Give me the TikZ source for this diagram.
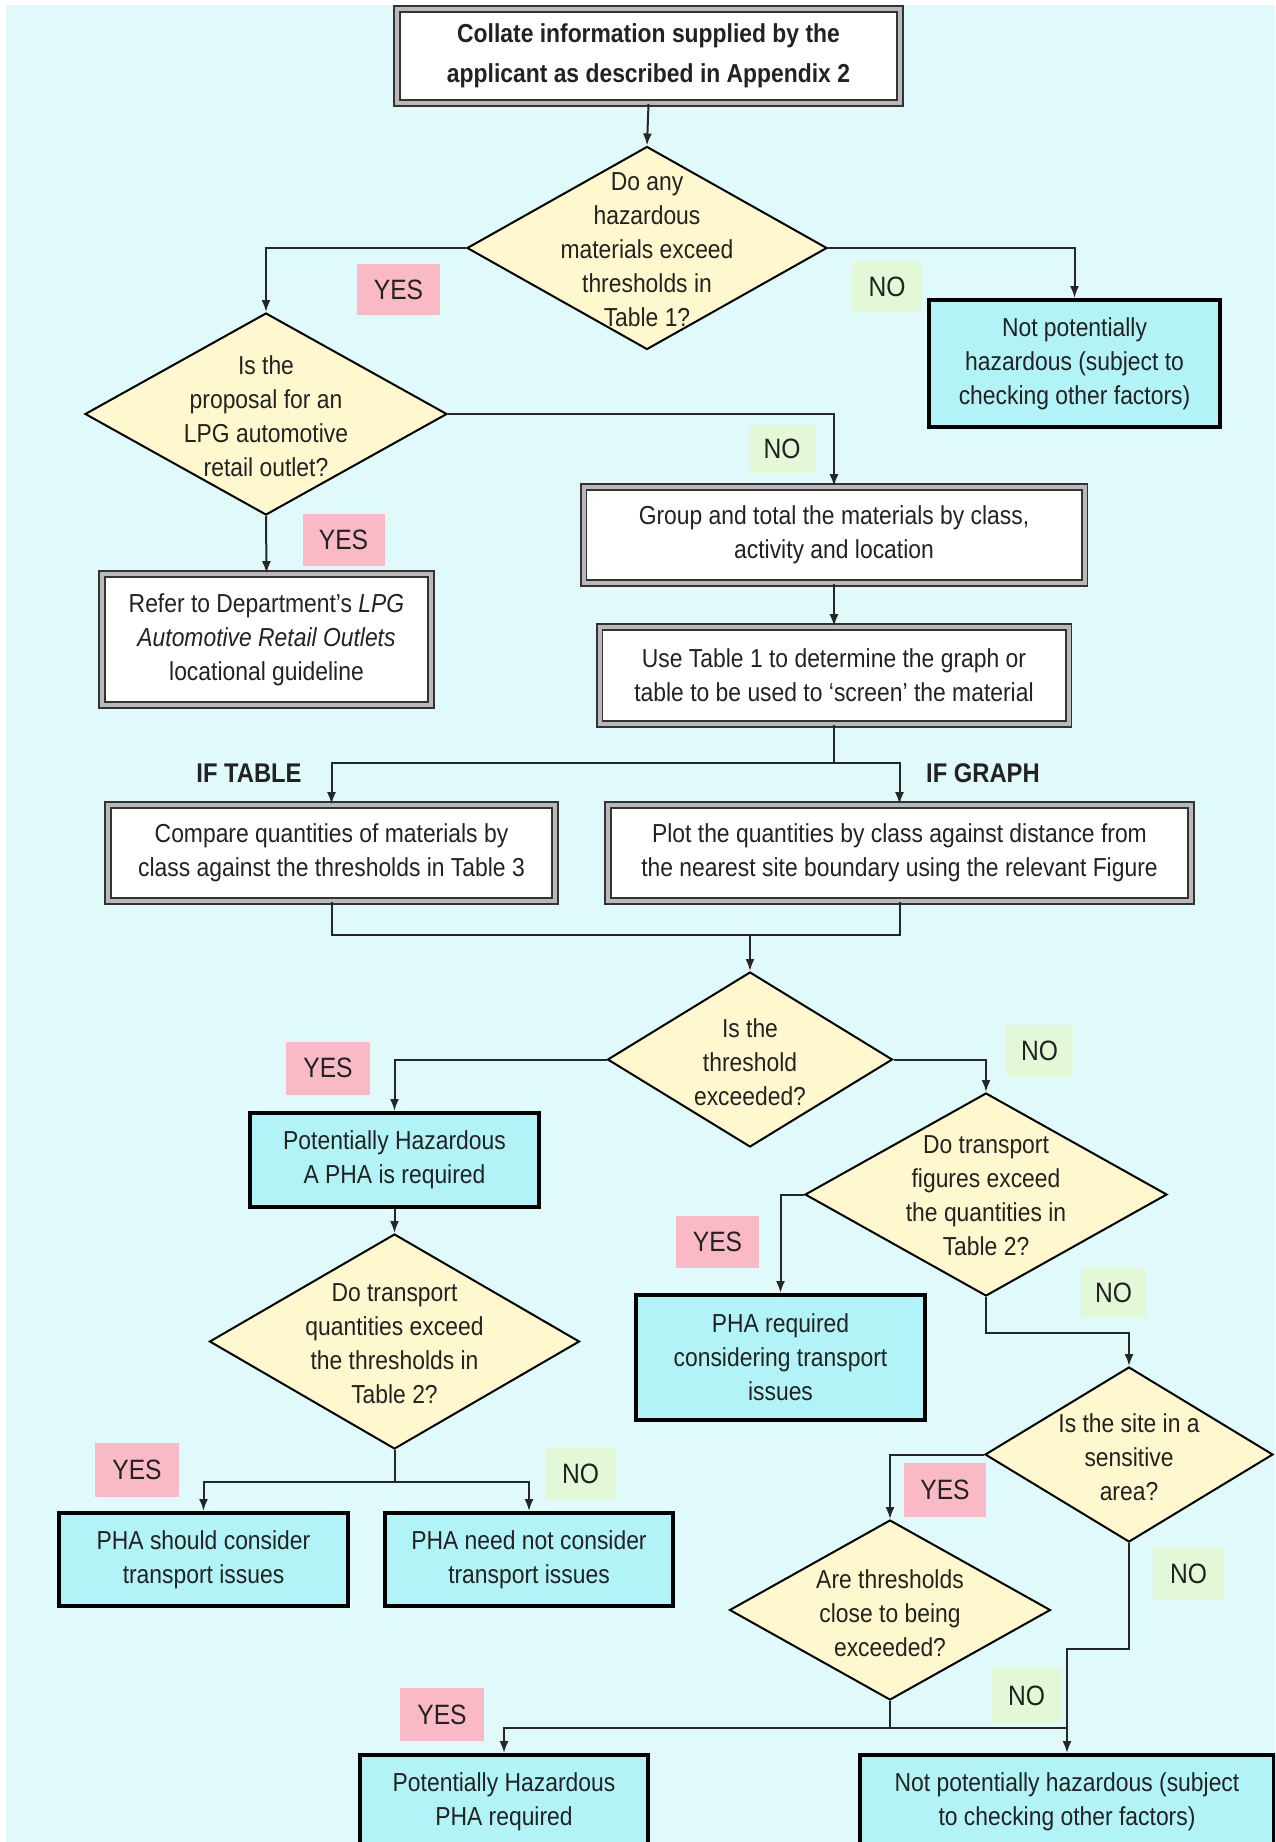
\documentclass[tikz,border=0pt]{standalone}
\usepackage{fontspec}
\setmainfont{Liberation Sans}[FakeStretch=0.88]
\usetikzlibrary{shapes.geometric,arrows.meta}
\definecolor{bgc}{RGB}{224,249,251}
\definecolor{cyanbox}{RGB}{178,243,247}
\definecolor{diafill}{RGB}{255,248,206}
\definecolor{yespink}{RGB}{250,186,197}
\definecolor{nogreen}{RGB}{226,248,214}
\definecolor{txt}{RGB}{34,34,34}
\begin{document}
\begin{tikzpicture}[x=0.5pt,y=-0.5pt,
 base/.style={font=\fontsize{13}{17}\selectfont, text=txt, align=center},
 wbox/.style={base, draw=black!80, line width=0.8pt, double=gray!55, double distance=2pt, fill=white, inner sep=0pt},
 cbox/.style={base, draw=black, line width=2pt, fill=cyanbox, inner sep=0pt},
 dia/.style={diamond, draw=black, line width=1pt, fill=diafill, inner sep=0pt},
 dtext/.style={base},
 yes/.style={base, fill=yespink, inner sep=0pt, font=\fontsize{14}{17}\selectfont},
 no/.style={base, fill=nogreen, inner sep=0pt, font=\fontsize{14}{17}\selectfont},
 iflab/.style={base, font=\bfseries\fontsize{13.5}{17}\selectfont},
 arr/.style={draw=black!85, line width=1pt, -{Latex[length=6pt,width=4.5pt]}},
 ln/.style={draw=black!85, line width=1pt},
]
\useasboundingbox (0,0) rectangle (1275,1842);
\clip (0,0) rectangle (1275,1842);
\fill[white] (0,0) rectangle (1275,1842);
\fill[bgc] (6,5) rectangle (1275,1842);

% boxes
\node[wbox, minimum width=251.5pt, minimum height=47pt, font=\bfseries\fontsize{13}{20}\selectfont] (top) at (648.5,56) {Collate information supplied by the\\applicant as described in Appendix 2};
\node[dia, minimum width=180pt, minimum height=101.5pt] (d1) at (647,248) {};
\node[dtext] (d1t) at (647,250) {Do any\\hazardous\\materials exceed\\thresholds in\\Table 1?};
\node[cbox, minimum width=145.5pt, minimum height=63.5pt] (nph1) at (1074.5,363.5) {Not potentially\\hazardous (subject to\\checking other factors)};
\node[dia, minimum width=181pt, minimum height=101pt] (d2) at (266,414) {};
\node[dtext] (d2t) at (266,416) {Is the\\proposal for an\\LPG automotive\\retail outlet?};
\node[wbox, minimum width=164.5pt, minimum height=65.5pt] (refer) at (266.5,639.5) {Refer to Department’s \textit{LPG}\\\textit{Automotive Retail Outlets}\\locational guideline};
\node[wbox, minimum width=250.5pt, minimum height=48pt] (group) at (834,535) {Group and total the materials by class,\\activity and location};
\node[wbox, minimum width=234.5pt, minimum height=48.5pt] (use) at (834,675.5) {Use Table 1 to determine the graph or\\table to be used to ‘screen’ the material};
\node[wbox, minimum width=223.5pt, minimum height=48pt] (compare) at (331.5,853) {Compare quantities of materials by\\class against the thresholds in Table 3};
\node[wbox, minimum width=291.5pt, minimum height=48pt] (plot) at (899.5,853) {Plot the quantities by class against distance from\\the nearest site boundary using the relevant Figure};
\node[dia, minimum width=142.5pt, minimum height=87.5pt] (d3) at (750,1059.5) {};
\node[dtext] (d3t) at (750,1062) {Is the\\threshold\\exceeded?};
\node[cbox, minimum width=144.5pt, minimum height=47pt] (pha1) at (394.5,1160) {Potentially Hazardous\\A PHA is required};
\node[dia, minimum width=185pt, minimum height=107.5pt] (d5) at (394.5,1341.5) {};
\node[dtext] (d5t) at (394.5,1344) {Do transport\\quantities exceed\\the thresholds in\\Table 2?};
\node[cbox, minimum width=144.5pt, minimum height=46.5pt] (should) at (203.5,1559.5) {PHA should consider\\transport issues};
\node[cbox, minimum width=144pt, minimum height=46.5pt] (neednot) at (529,1559.5) {PHA need not consider\\transport issues};
\node[dia, minimum width=181pt, minimum height=101.5pt] (d4) at (986,1194.5) {};
\node[dtext] (d4t) at (986,1196) {Do transport\\figures exceed\\the quantities in\\Table 2?};
\node[cbox, minimum width=144.5pt, minimum height=62.5pt] (pharq) at (780.5,1357.5) {PHA required\\considering transport\\issues};
\node[dia, minimum width=144pt, minimum height=87.5pt] (d6) at (1129,1454.5) {};
\node[dtext] (d6t) at (1129,1457) {Is the site in a\\sensitive\\area?};
\node[dia, minimum width=160.5pt, minimum height=90pt] (d7) at (890,1610) {};
\node[dtext] (d7t) at (890,1613) {Are thresholds\\close to being\\exceeded?};
\node[cbox, minimum width=144pt, minimum height=47pt] (pfin) at (504,1802) {Potentially Hazardous\\PHA required};
\node[cbox, minimum width=207pt, minimum height=47pt] (nfin) at (1067,1802) {Not potentially hazardous (subject\\to checking other factors)};

% labels
\node[yes, minimum width=41.5pt, minimum height=25.5pt] (yes1) at (398.5,289.5) {YES};
\node[no, minimum width=35pt, minimum height=24.5pt] (no1) at (887,286.5) {NO};
\node[no, minimum width=33pt, minimum height=24pt] (no2) at (782,449) {NO};
\node[yes, minimum width=41pt, minimum height=26pt] (yes2) at (343.5,540) {YES};
\node[iflab] (iftable) at (249,773) {IF TABLE};
\node[iflab] (ifgraph) at (983,773) {IF GRAPH};
\node[yes, minimum width=42pt, minimum height=26.5pt] (yes3) at (328,1068) {YES};
\node[no, minimum width=33.5pt, minimum height=26pt] (no3) at (1039.5,1051) {NO};
\node[yes, minimum width=41.5pt, minimum height=26pt] (yes4) at (717.5,1242) {YES};
\node[no, minimum width=32.5pt, minimum height=25pt] (no4) at (1113.5,1293) {NO};
\node[yes, minimum width=42pt, minimum height=27pt] (yes5) at (137,1470) {YES};
\node[no, minimum width=34.5pt, minimum height=26.5pt] (no5) at (580.5,1473.5) {NO};
\node[yes, minimum width=41pt, minimum height=27pt] (yes6) at (945,1490) {YES};
\node[no, minimum width=35.5pt, minimum height=26.5pt] (no6) at (1188.5,1573.5) {NO};
\node[yes, minimum width=42pt, minimum height=26.5pt] (yes7) at (442,1714.5) {YES};
\node[no, minimum width=34.5pt, minimum height=27.5pt] (no7) at (1026.5,1695.5) {NO};

% connectors
\coordinate (s1) at (834,763);
\coordinate (j1) at (750,935);
\coordinate (s5) at (394.5,1482);
\coordinate (k4) at (986,1333);
\coordinate (k6) at (1067,1649);
\coordinate (j7) at (890,1728);

\draw[arr] (top.south) -- (d1.north);
\draw[arr] (d1.west) -| (d2.north);
\draw[arr] (d1.east) -| (nph1.north);
\draw[arr] (d2.east) -| (group.north);
\draw[arr] (d2.south) -- (refer.north);
\draw[arr] (group.south) -- (use.north);
\draw[ln] (use.south) -- (s1);
\draw[arr] (s1) -| (compare.north);
\draw[arr] (s1) -| (plot.north);
\draw[ln] (compare.south) |- (j1);
\draw[ln] (plot.south) |- (j1);
\draw[arr] (j1) -- (d3.north);
\draw[arr] (d3.west) -| (pha1.north);
\draw[arr] (d3.east) -| (d4.north);
\draw[arr] (pha1.south) -- (d5.north);
\draw[ln] (d5.south) -- (s5);
\draw[arr] (s5) -| (should.north);
\draw[arr] (s5) -| (neednot.north);
\draw[arr] (d4.west) -| (pharq.north);
\draw[arr] (d4.south) -- (k4) -| (d6.north);
\draw[arr] (d6.west) -| (d7.north);
\draw[arr] (d6.south) |- (k6) -- (nfin.north);
\draw[arr] (d7.south) -- (j7) -| (pfin.north);
\draw[ln] (j7) -- (j7 -| nfin.north);
\end{tikzpicture}
\end{document}
